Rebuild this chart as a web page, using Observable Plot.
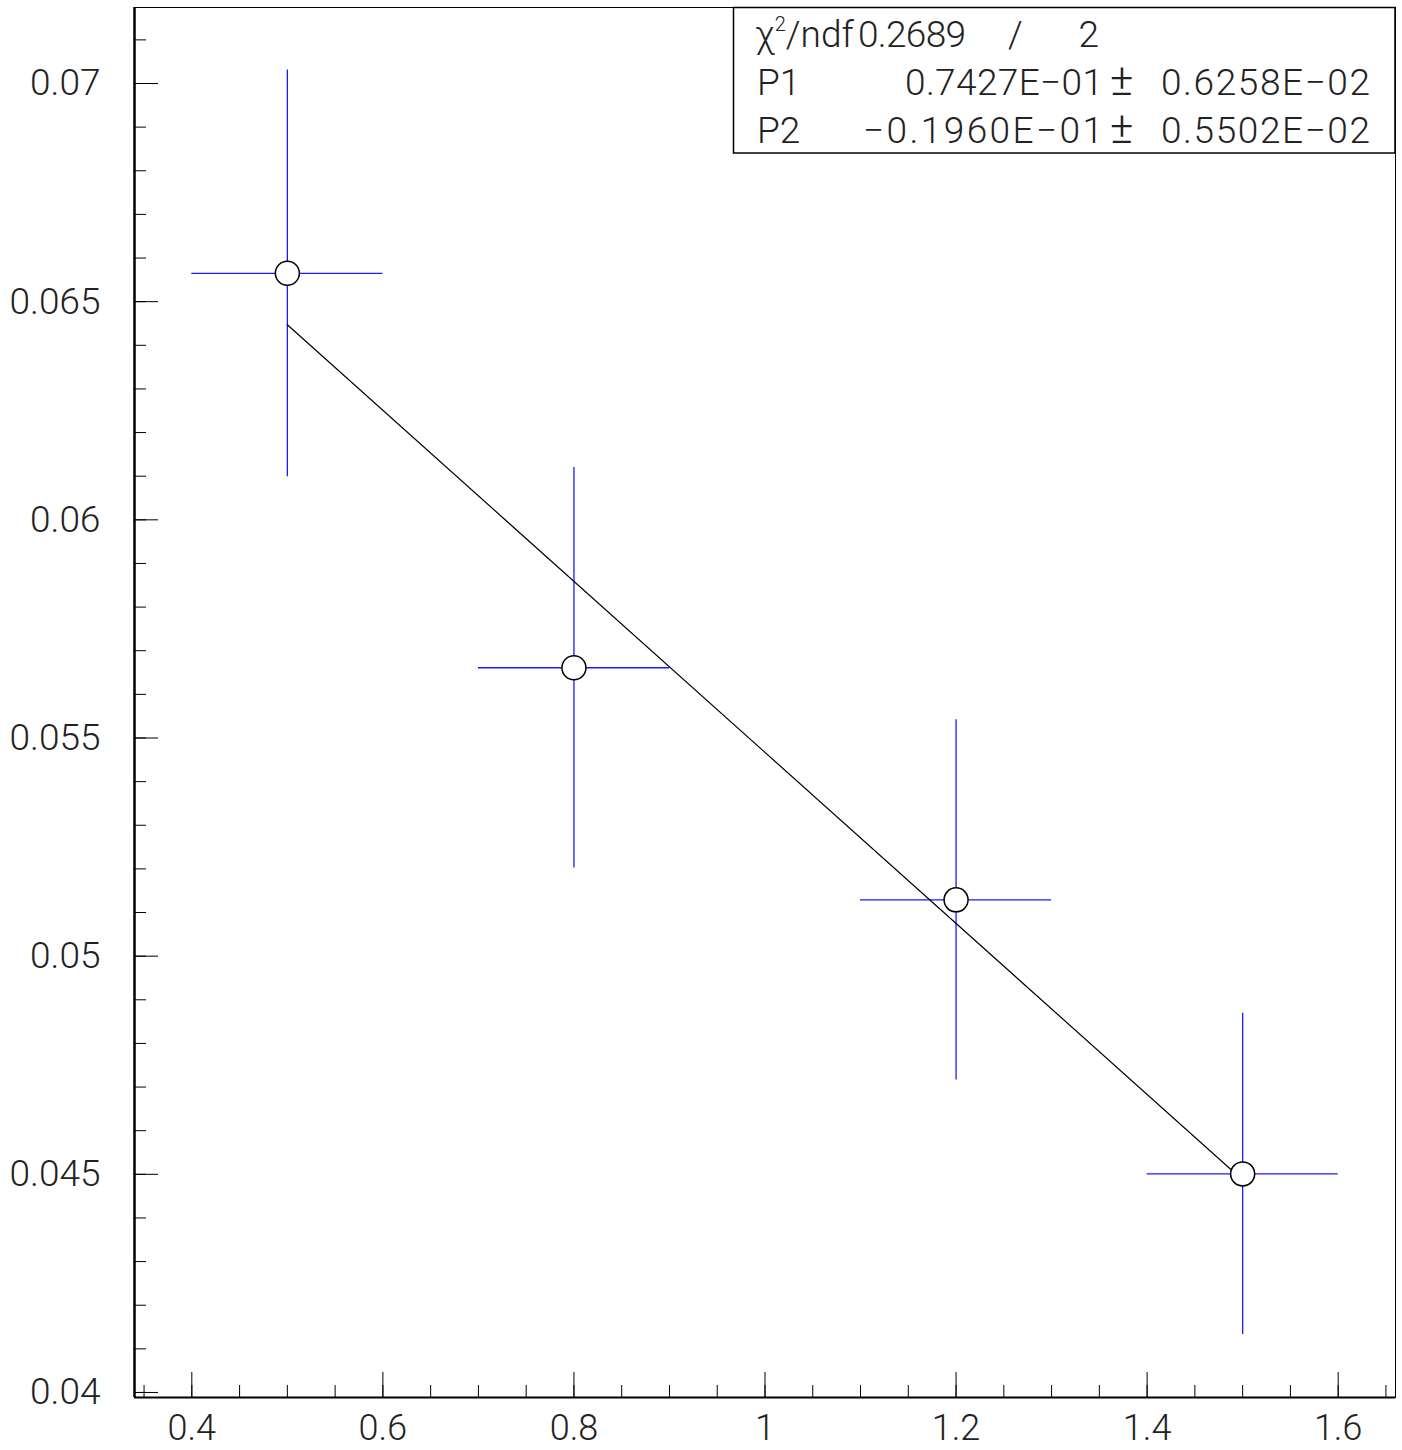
<!DOCTYPE html>
<html>
<head>
<meta charset="utf-8">
<script src="https://cdn.jsdelivr.net/npm/d3@7"></script>
<script src="https://cdn.jsdelivr.net/npm/@observablehq/plot@0.6"></script>
<style>
  html, body { margin: 0; padding: 0; background: #fff; }
  #chart { position: relative; width: 1402px; height: 1450px; }
</style>
</head>
<body>
<div id="chart"></div>
<script>
// ---- data ----
const binCenters    = [0.5, 0.8, 1.2, 1.5];
const binHalfWidths = [0.1, 0.1, 0.1, 0.1];
const values        = [0.06565, 0.05661, 0.05129, 0.04501];
const errors        = [0.00466, 0.00459, 0.00413, 0.00368];

const fitX = [0.5, 1.5];
const fitY = [0.06447, 0.04487];

const xTicks      = [0.4, 0.6, 0.8, 1.0, 1.2, 1.4, 1.6];
const xTickLabels = ["0.4", "0.6", "0.8", "1", "1.2", "1.4", "1.6"];
const yTicks      = [0.04, 0.045, 0.05, 0.055, 0.06, 0.065, 0.07];
const yTickLabels = ["0.04", "0.045", "0.05", "0.055", "0.06", "0.065", "0.07"];
const xMinorTicks = d3.range(0.35, 1.651, 0.05);
const yMinorTicks = d3.range(0.040, 0.0712, 0.001);

const xDomain = [0.34, 1.66];
const yDomain = [0.039885, 0.071742];

const statChi2 = "0.2689";
const statNdf  = "2";
const statNames  = ["P1", "P2"];
const statValues = ["0.7427E\u221201", "\u22120.1960E\u221201"];
const statErrors = ["0.6258E\u221202", "0.5502E\u221202"];

// ---- tables ----
const points = binCenters.map((x, i) => ({
  x, y: values[i], hw: binHalfWidths[i], e: errors[i]
}));
const fit = fitX.map((x, i) => ({x, y: fitY[i]}));

const FONT = "Roboto, 'Liberation Sans', sans-serif";
const blue = "#1a1aff";

const chart = Plot.plot({
  width: 1402,
  height: 1450,
  marginLeft: 134,
  marginRight: 7,
  marginTop: 7,
  marginBottom: 53,
  style: {fontFamily: FONT, background: "white"},
  x: {domain: xDomain, axis: null},
  y: {domain: yDomain, axis: null},
  marks: [
    // error bars
    Plot.ruleY(points, {y: "y", x1: d => d.x - d.hw, x2: d => d.x + d.hw, stroke: blue, strokeWidth: 1.3}),
    Plot.ruleX(points, {x: "x", y1: d => d.y - d.e, y2: d => d.y + d.e, stroke: blue, strokeWidth: 1.3}),
    // fit
    Plot.line(fit, {x: "x", y: "y", stroke: "black", strokeWidth: 1.2}),
    // markers
    Plot.dot(points, {x: "x", y: "y", r: 12, fill: "white", stroke: "black", strokeWidth: 1.5}),
    // frame
    Plot.frame({stroke: "black", strokeWidth: 1}),
    Plot.ruleX([xDomain[0]], {stroke: "black", strokeWidth: 2.5}),
    Plot.ruleY([yDomain[0]], {stroke: "black", strokeWidth: 2}),
    // ticks (inside)
    Plot.axisX(xMinorTicks, {anchor: "bottom", tickSize: -12, tickFormat: () => "", label: null}),
    Plot.axisX(xTicks, {anchor: "bottom", tickSize: -25, tickFormat: () => "", label: null}),
    Plot.axisY(yMinorTicks, {anchor: "left", tickSize: -12, tickFormat: () => "", label: null}),
    Plot.axisY(yTicks, {anchor: "left", tickSize: -24, tickFormat: () => "", label: null}),
    // labels
    Plot.axisX(xTicks, {anchor: "bottom", tickSize: 0, tickPadding: 17, fontSize: 36, fontWeight: 300, fill: "#222",
      tickFormat: d => xTickLabels[xTicks.indexOf(d)], label: null}),
    Plot.axisY(yTicks, {anchor: "left", tickSize: 0, tickPadding: 34, fontSize: 37, fontWeight: 300, fill: "#222",
      tickFormat: d => yTickLabels[yTicks.indexOf(d)], label: null})
  ]
});

document.getElementById("chart").appendChild(chart);

// ---- statistics box ----
const svg = d3.select(chart);
const g = svg.append("g")
  .attr("font-family", FONT)
  .attr("font-size", 37)
  .attr("font-weight", 300)
  .attr("text-anchor", "start")
  .attr("fill", "#222");
g.append("rect")
  .attr("x", 733.5).attr("y", 7.5).attr("width", 661.5).attr("height", 145.5)
  .attr("fill", "white").attr("stroke", "black").attr("stroke-width", 1.5);

const row1 = g.append("text").attr("x", 755).attr("y", 47);
row1.append("tspan").text("\u03c7");
row1.append("tspan").attr("font-size", 20).attr("dy", -16).text("2");
row1.append("tspan").attr("dy", 16).text("/ndf");
g.append("text").attr("x", 858).attr("y", 47).attr("textLength", 108).attr("lengthAdjust", "spacing").text(statChi2);
g.append("text").attr("x", 1008).attr("y", 47).text("/");
g.append("text").attr("x", 1099).attr("y", 47).attr("text-anchor", "end").text(statNdf);

const valueLengths = [198, 240];
statNames.forEach((name, i) => {
  const yy = 95 + i * 47.5;
  g.append("text").attr("x", 757).attr("y", yy).text(name);
  g.append("text").attr("x", 1103 - valueLengths[i]).attr("y", yy)
    .attr("textLength", valueLengths[i]).attr("lengthAdjust", "spacing").text(statValues[i]);
  g.append("text").attr("x", 1110).attr("y", yy).attr("font-size", 44).text("\u00b1");
  g.append("text").attr("x", 1161).attr("y", yy)
    .attr("textLength", 209).attr("lengthAdjust", "spacing").text(statErrors[i]);
});
</script>
</body>
</html>
